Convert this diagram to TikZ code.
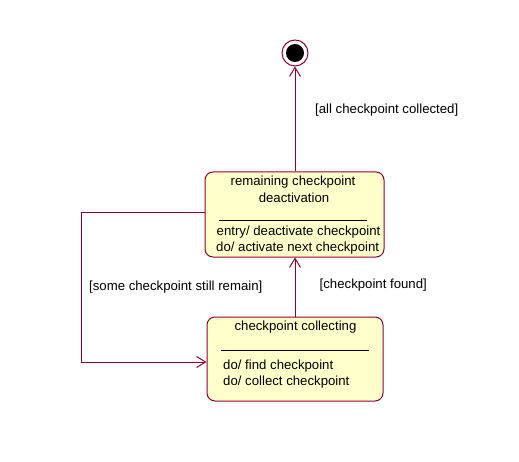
\documentclass[tikz,border=0pt]{standalone}
\usepackage{fontspec}
\setmainfont{Liberation Sans}
\usetikzlibrary{arrows.meta}
\definecolor{umlred}{RGB}{145,0,50}
\definecolor{umlfill}{RGB}{255,255,204}
\begin{document}
\begin{tikzpicture}[x=1bp,y=-1bp,
  state/.style={draw=umlred, fill=umlfill, rounded corners=8bp, line width=1bp, inner sep=0pt},
  txt/.style={font=\fontsize{13.2bp}{16bp}\selectfont, inner sep=0pt, text=black},
  conn/.style={draw=umlred, line width=1bp, -{Straight Barb[length=9bp,width=11bp]}},
  sep/.style={draw=black, line width=0.8bp}]
\fill[white] (0,0) rectangle (519,462);
\useasboundingbox (0,0) rectangle (519,462);
% final state
\node[circle, draw=umlred, fill=white, minimum size=26bp, inner sep=0pt, line width=1bp] (final) at (295,53) {};
\node[circle, fill=black, minimum size=18bp, inner sep=0pt] (finaldot) at (final) {};
% states
\node[state, minimum width=179bp, minimum height=85bp] (remain) at (294.5,214.5) {};
\node[state, minimum width=176bp, minimum height=84bp] (collect) at (295,359) {};
% state texts
\node[txt] (r1) at (293,182) {remaining checkpoint};
\node[txt] (r2) at (294,198) {deactivation};
\draw[sep] (219,220.5) -- (367,220.5);
\node[txt, anchor=west] (r3) at (216.5,232.5) {entry/ deactivate checkpoint};
\node[txt, anchor=west] (r4) at (216,248.5) {do/ activate next checkpoint};
\node[txt] (c1t) at (295.5,327) {checkpoint collecting};
\draw[sep] (221,350) -- (369,350);
\node[txt, anchor=west] (c2t) at (223,366) {do/ find checkpoint};
\node[txt, anchor=west] (c3t) at (223,382) {do/ collect checkpoint};
% connectors
\draw[conn] (remain.north -| final) -- (final.south);
\draw[conn] (collect.north) -- (collect.north |- remain.south);
\coordinate (k1) at (81,213);
\coordinate (k2) at (81,362);
\draw[conn] (remain.west |- k1) -- (k1) -- (k2) -- (collect.west |- k2);
% labels
\node[txt, anchor=west] (l1) at (315,110) {[all checkpoint collected]};
\node[txt, anchor=west] (l2) at (319.5,285.5) {[checkpoint found]};
\node[txt, anchor=west] (l3) at (89,287) {[some checkpoint still remain]};
\end{tikzpicture}
\end{document}
